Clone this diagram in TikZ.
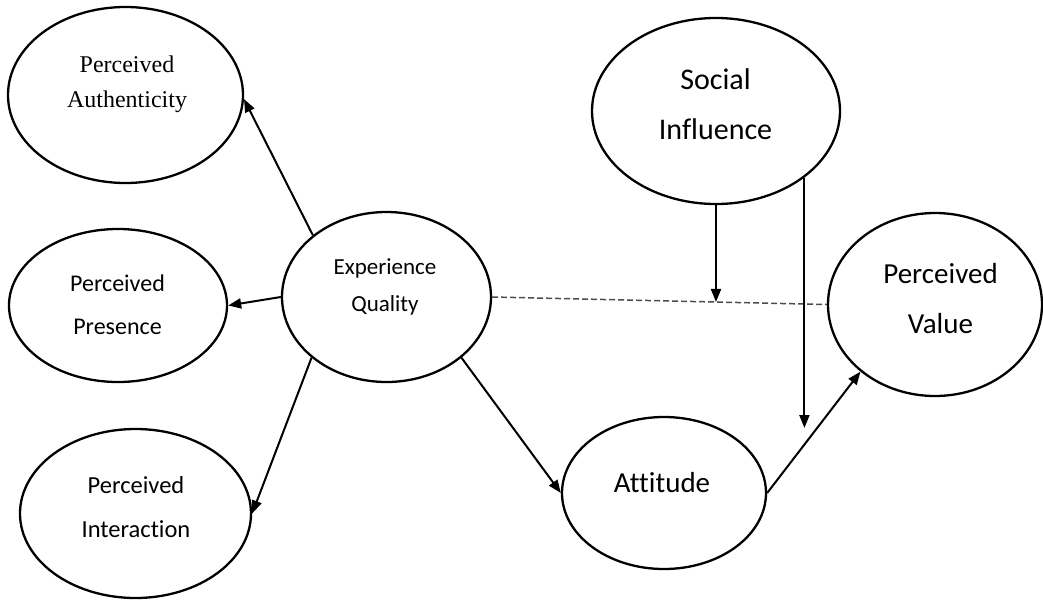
\documentclass[tikz,border=0pt]{standalone}
\usepackage{fontspec}
\setmainfont{Carlito}[Ligatures=NoCommon]
\newfontfamily\serifface{Liberation Serif}
\usetikzlibrary{arrows.meta,shapes.geometric,calc}

\begin{document}
\begin{tikzpicture}[x=1pt,y=-1pt,
  construct/.style={ellipse, draw, line width=2.3pt, inner sep=0pt},
  caption/.style={align=center, inner sep=0pt},
  link/.style={line width=2pt, -{Triangle[length=13pt,width=10pt]}},
  moderation/.style={line width=1.5pt, dash pattern=on 6pt off 3pt, draw=black!70},
]
\useasboundingbox (0,0) rectangle (1043,600);

% constructs
\node[construct, minimum width=235pt, minimum height=176pt] (pa) at (125.5,95) {};
\node[construct, minimum width=218pt, minimum height=153pt] (pp) at (118,305.5) {};
\node[construct, minimum width=209pt, minimum height=170pt] (eq) at (386.5,297) {};
\node[construct, minimum width=231pt, minimum height=169pt] (pi) at (135.5,513.5) {};
\node[construct, minimum width=248pt, minimum height=186pt] (si) at (716,111) {};
\node[construct, minimum width=214pt, minimum height=183pt] (pv) at (935,304.5) {};
\node[construct, minimum width=204pt, minimum height=152pt] (att) at (664,493) {};

% construct names
\node[caption, font=\serifface\fontsize{24}{35}\selectfont] (pa-t) at (127,84) {Perceived\\Authenticity};
\node[caption, font=\fontsize{24}{43}\selectfont] (pp-t) at (117.5,305) {Perceived\\Presence};
\node[caption, font=\fontsize{23}{37}\selectfont] (eq-t) at (385,287) {Experience\\Quality};
\node[caption, font=\fontsize{24.5}{44}\selectfont] (pi-t) at (136,507) {Perceived\\Interaction};
\node[caption, font=\fontsize{30}{50}\selectfont] (si-t) at (715.5,104) {Social\\Influence};
\node[caption, font=\fontsize{29}{50}\selectfont] (pv-t) at (940.5,299) {Perceived\\Value};
\node[caption, font=\fontsize{29}{35}\selectfont] (att-t) at (662,483) {Attitude};

% paths
\draw[link] (eq.140) -- (pa.-2);
\draw[link] (eq.180) -- (pp.0);
\draw[link] (eq.219) -- (pi.0);
\draw[link] (eq.-39) -- (att.180);
\draw[link] (att.0) -- (pv.222);
\draw[moderation] (eq.0) -- (pv.180);

% moderating effects of social influence
\coordinate (meet) at ($(eq.0)!0.665!(pv.180)$);
\draw[link] (si.south) -- (si.south |- meet);
\coordinate (siend) at (803,428);
\draw[link] (si.-37) -- (si.-37 |- siend);
\end{tikzpicture}
\end{document}
